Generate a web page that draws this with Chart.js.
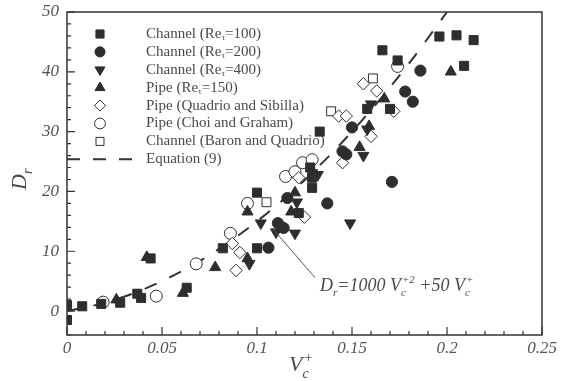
<!DOCTYPE html>
<html lang="en">
<head>
<meta charset="UTF-8" />
<title>Dr vs Vc+</title>
<script src="https://cdn.jsdelivr.net/npm/chart.js"></script>
<style>
  html, body { margin: 0; padding: 0; background: #fff; }
  #wrap { width: 561px; height: 381px; }
</style>
</head>
<body>
<div id="wrap"><canvas id="chart"></canvas></div>
<script>
const xTicks = [0, 0.05, 0.1, 0.15, 0.2, 0.25];
const xTickLabels = ['0', '0.05', '0.1', '0.15', '0.2', '0.25'];
const yTicks = [0, 10, 20, 30, 40, 50];
const yTickLabels = ['0', '10', '20', '30', '40', '50'];

const seriesNames = [
  'Channel (Re_τ=100)',
  'Channel (Re_τ=200)',
  'Channel (Re_τ=400)',
  'Pipe (Re_τ=150)',
  'Pipe (Quadrio and Sibilla)',
  'Pipe (Choi and Graham)',
  'Channel (Baron and Quadrio)',
  'Equation (9)'
];

// Channel Re=100 (filled squares)
const ch100V = [0, 0, 0.008, 0.018, 0.028, 0.037, 0.039, 0.044, 0.063, 0.082, 0.100, 0.100, 0.122, 0.129, 0.128, 0.129, 0.133, 0.158, 0.170, 0.166, 0.174, 0.196, 0.205, 0.214, 0.209];
const ch100D = [1.0, -1.5, 0.8, 1.2, 1.4, 2.9, 2.2, 8.8, 3.9, 10.5, 10.5, 19.8, 16.4, 20.6, 24.0, 22.3, 30.0, 33.8, 33.8, 43.6, 41.9, 45.9, 46.1, 45.3, 41.0];
// Channel Re=200 (filled circles)
const ch200V = [0.106, 0.111, 0.114, 0.116, 0.137, 0.145, 0.147, 0.150, 0.171, 0.178, 0.182, 0.186];
const ch200D = [10.6, 14.7, 13.9, 18.9, 18.0, 26.7, 26.2, 30.7, 21.6, 36.7, 35.0, 40.2];
// Channel Re=400 (down triangles)
const ch400V = [0.096, 0.102, 0.110, 0.120, 0.121, 0.129, 0.132, 0.149, 0.156, 0.158, 0.160];
const ch400D = [7.9, 14.7, 13.2, 13.0, 18.2, 23.1, 22.8, 14.7, 26.0, 30.4, 34.6];
// Pipe Re=150 (up triangles)
const pipe150V = [0.026, 0.042, 0.061, 0.078, 0.095, 0.095, 0.118, 0.120, 0.154, 0.159, 0.167, 0.202];
const pipe150D = [1.9, 9.0, 3.0, 7.3, 8.8, 16.6, 16.6, 19.8, 27.4, 30.9, 35.5, 40.0];
// Pipe, Quadrio and Sibilla (open diamonds)
const pipeQSV = [0.087, 0.089, 0.091, 0.122, 0.125, 0.143, 0.145, 0.147, 0.156, 0.160, 0.163, 0.172];
const pipeQSD = [11.3, 6.8, 9.8, 22.3, 15.7, 32.6, 24.8, 32.6, 38.0, 29.2, 36.8, 33.4];
// Pipe, Choi and Graham (open circles)
const pipeCGV = [0.019, 0.047, 0.068, 0.086, 0.095, 0.115, 0.120, 0.124, 0.129, 0.174];
const pipeCGD = [1.5, 2.5, 7.9, 13.0, 18.0, 22.5, 23.3, 24.8, 25.3, 40.9];
// Channel, Baron and Quadrio (open squares)
const chBQV = [0.105, 0.139, 0.161];
const chBQD = [18.2, 33.4, 38.9];
// Equation (9) curve
const eqV = [0, 0.02, 0.04, 0.06, 0.08, 0.10, 0.12, 0.14, 0.16, 0.18, 0.20];
const eqD = [0, 1.4, 3.6, 6.6, 10.4, 15.0, 20.4, 26.6, 33.6, 41.4, 50.0];

const ink = '#2e2e2e';
const textGray = '#4a4a4a';
const serif = '"Liberation Serif", "DejaVu Serif", serif';

function pts(xs, ys) { return xs.map((v, i) => ({ x: v, y: ys[i] })); }

const markers = [
  { style: 'rect', r: 6.4, fill: ink, rot: 0 },
  { style: 'circle', r: 5.6, fill: ink, rot: 0 },
  { style: 'triangle', r: 6.4, fill: ink, rot: 180 },
  { style: 'triangle', r: 6.4, fill: ink, rot: 0 },
  { style: 'rectRot', r: 6.2, fill: '#fff', rot: 0 },
  { style: 'circle', r: 6.0, fill: '#fff', rot: 0 },
  { style: 'rect', r: 6.3, fill: '#fff', rot: 0 }
];
const seriesData = [
  pts(ch100V, ch100D), pts(ch200V, ch200D), pts(ch400V, ch400D), pts(pipe150V, pipe150D),
  pts(pipeQSV, pipeQSD), pts(pipeCGV, pipeCGD), pts(chBQV, chBQD)
];

const datasets = seriesData.map((d, i) => ({
  label: seriesNames[i],
  data: d,
  pointStyle: markers[i].style,
  pointRadius: markers[i].r,
  pointRotation: markers[i].rot,
  backgroundColor: markers[i].fill,
  borderColor: ink,
  borderWidth: 1,
  order: 1
}));
datasets.push({
  label: seriesNames[7],
  type: 'line',
  data: pts(eqV, eqD),
  showLine: true,
  pointRadius: 0,
  borderColor: '#333',
  borderWidth: 2,
  borderDash: [13, 14],
  cubicInterpolationMode: 'monotone',
  fill: false,
  order: 2
});

function drawMarker(ctx, m, x, y) {
  ctx.save();
  ctx.beginPath();
  const r = m.r;
  if (m.style === 'rect') {
    const s = Math.SQRT1_2 * r;
    ctx.rect(x - s, y - s, 2 * s, 2 * s);
  } else if (m.style === 'circle') {
    ctx.arc(x, y, r, 0, Math.PI * 2);
  } else if (m.style === 'rectRot') {
    ctx.moveTo(x, y - r); ctx.lineTo(x + r, y); ctx.lineTo(x, y + r); ctx.lineTo(x - r, y); ctx.closePath();
  } else {
    const dir = m.rot === 180 ? -1 : 1;
    ctx.moveTo(x, y - dir * r);
    ctx.lineTo(x + r * 0.866, y + dir * r * 0.5);
    ctx.lineTo(x - r * 0.866, y + dir * r * 0.5);
    ctx.closePath();
  }
  ctx.fillStyle = m.fill;
  ctx.fill();
  ctx.strokeStyle = ink;
  ctx.lineWidth = 1;
  ctx.stroke();
  ctx.restore();
}

// text with sub/superscripts: segments [text, mode]
function richText(ctx, segs, x, y, size, italic) {
  const f = (s) => (italic ? 'italic ' : '') + s + 'px ' + serif;
  const small = Math.round(size * 0.62);
  for (const [t, mode] of segs) {
    if (mode === 'n') {
      ctx.font = f(size);
      ctx.fillText(t, x, y);
      x += ctx.measureText(t).width;
    } else if (mode === 'sub') {
      ctx.font = f(small);
      ctx.fillText(t, x, y + size * 0.25);
      x += ctx.measureText(t).width;
    } else { // stacked sup/sub, t = [sup, sub]
      ctx.font = f(small);
      ctx.fillText(t[0], x + 1, y - size * 0.42);
      ctx.fillText(t[1], x, y + size * 0.3);
      x += Math.max(ctx.measureText(t[0]).width + 1, ctx.measureText(t[1]).width);
    }
  }
  return x;
}

const decor = {
  id: 'decor',
  afterDatasetsDraw(chart) {
    const { ctx, chartArea: a, scales: { x, y } } = chart;
    ctx.save();
    ctx.strokeStyle = '#333';
    ctx.lineWidth = 1.5;
    ctx.strokeRect(a.left, a.top, a.right - a.left, a.bottom - a.top);

    // inward ticks
    ctx.lineWidth = 1.2;
    ctx.beginPath();
    for (let i = 0; i <= 25; i++) {
      const px = x.getPixelForValue(i / 100);
      const len = i % 5 === 0 ? 8 : 4;
      ctx.moveTo(px, a.bottom); ctx.lineTo(px, a.bottom - len);
    }
    for (let d = -4; d <= 50; d += 2) {
      const py = y.getPixelForValue(d);
      const len = d % 10 === 0 ? 8 : 4;
      ctx.moveTo(a.left, py); ctx.lineTo(a.left + len, py);
    }
    ctx.stroke();

    // legend
    const rowY = (i) => a.top + 22 + i * 17.9;
    ctx.fillStyle = textGray;
    ctx.textBaseline = 'middle';
    ctx.textAlign = 'left';
    for (let i = 0; i < 7; i++) {
      drawMarker(ctx, { ...markers[i], r: markers[i].r * 0.9 }, 100, rowY(i));
    }
    seriesNames.forEach((name, i) => {
      const parts = name.split('_τ');
      const segs = parts.length > 1 ? [[parts[0], 'n'], ['τ', 'sub'], [parts[1], 'n']] : [[name, 'n']];
      ctx.fillStyle = textGray;
      richText(ctx, segs, 146, rowY(i), 15, false);
    });
    ctx.save();
    ctx.strokeStyle = '#333';
    ctx.lineWidth = 2;
    ctx.setLineDash([13, 13]);
    ctx.beginPath();
    ctx.moveTo(a.left, rowY(7)); ctx.lineTo(a.left + 66, rowY(7));
    ctx.stroke();
    ctx.restore();

    // annotation leader and equation
    ctx.strokeStyle = '#555';
    ctx.lineWidth = 1;
    ctx.beginPath();
    ctx.moveTo(x.getPixelForValue(0.1305), y.getPixelForValue(5.6));
    ctx.lineTo(x.getPixelForValue(0.1079), y.getPixelForValue(13.9));
    ctx.stroke();
    ctx.fillStyle = textGray;
    ctx.textBaseline = 'alphabetic';
    richText(ctx, [['D', 'n'], ['r', 'sub'], ['=1000 V', 'n'], [['+2', 'c'], 'ss'], [' +50 V', 'n'], [['+', 'c'], 'ss']], 320, 291, 18, true);

    // axis titles
    richText(ctx, [['V', 'n'], [['+', 'c'], 'ss']], 289, 371, 22, true);
    ctx.translate(26, 190);
    ctx.rotate(-Math.PI / 2);
    richText(ctx, [['D', 'n'], ['r', 'sub']], 0, 0, 22, true);
    ctx.restore();
  }
};

new Chart(document.getElementById('chart'), {
  type: 'scatter',
  data: { datasets },
  options: {
    responsive: true,
    maintainAspectRatio: false,
    animation: false,
    layout: { padding: { left: 0, top: 12, right: 19, bottom: 0 } },
    plugins: { legend: { display: false }, tooltip: { enabled: false } },
    scales: {
      x: {
        type: 'linear', min: 0, max: 0.25,
        grid: { display: false, drawTicks: false },
        border: { display: false },
        afterBuildTicks: (s) => { s.ticks = xTicks.map(v => ({ value: v })); },
        afterFit: (s) => { s.height = 46; s.paddingLeft = 0; s.paddingRight = 0; },
        ticks: {
          padding: 3, maxRotation: 0, autoSkip: false,
          color: '#555',
          font: { family: serif, size: 17, style: 'italic' },
          callback: (v, i) => xTickLabels[i]
        }
      },
      y: {
        type: 'linear', min: -4, max: 50,
        grid: { display: false, drawTicks: false },
        border: { display: false },
        afterBuildTicks: (s) => { s.ticks = yTicks.map(v => ({ value: v })); },
        afterFit: (s) => { s.width = 67; s.paddingTop = 0; s.paddingBottom = 0; },
        ticks: {
          padding: 8, autoSkip: false,
          color: '#555',
          font: { family: serif, size: 17, style: 'italic' },
          callback: (v, i) => yTickLabels[i]
        }
      }
    }
  },
  plugins: [decor]
});
</script>
</body>
</html>
